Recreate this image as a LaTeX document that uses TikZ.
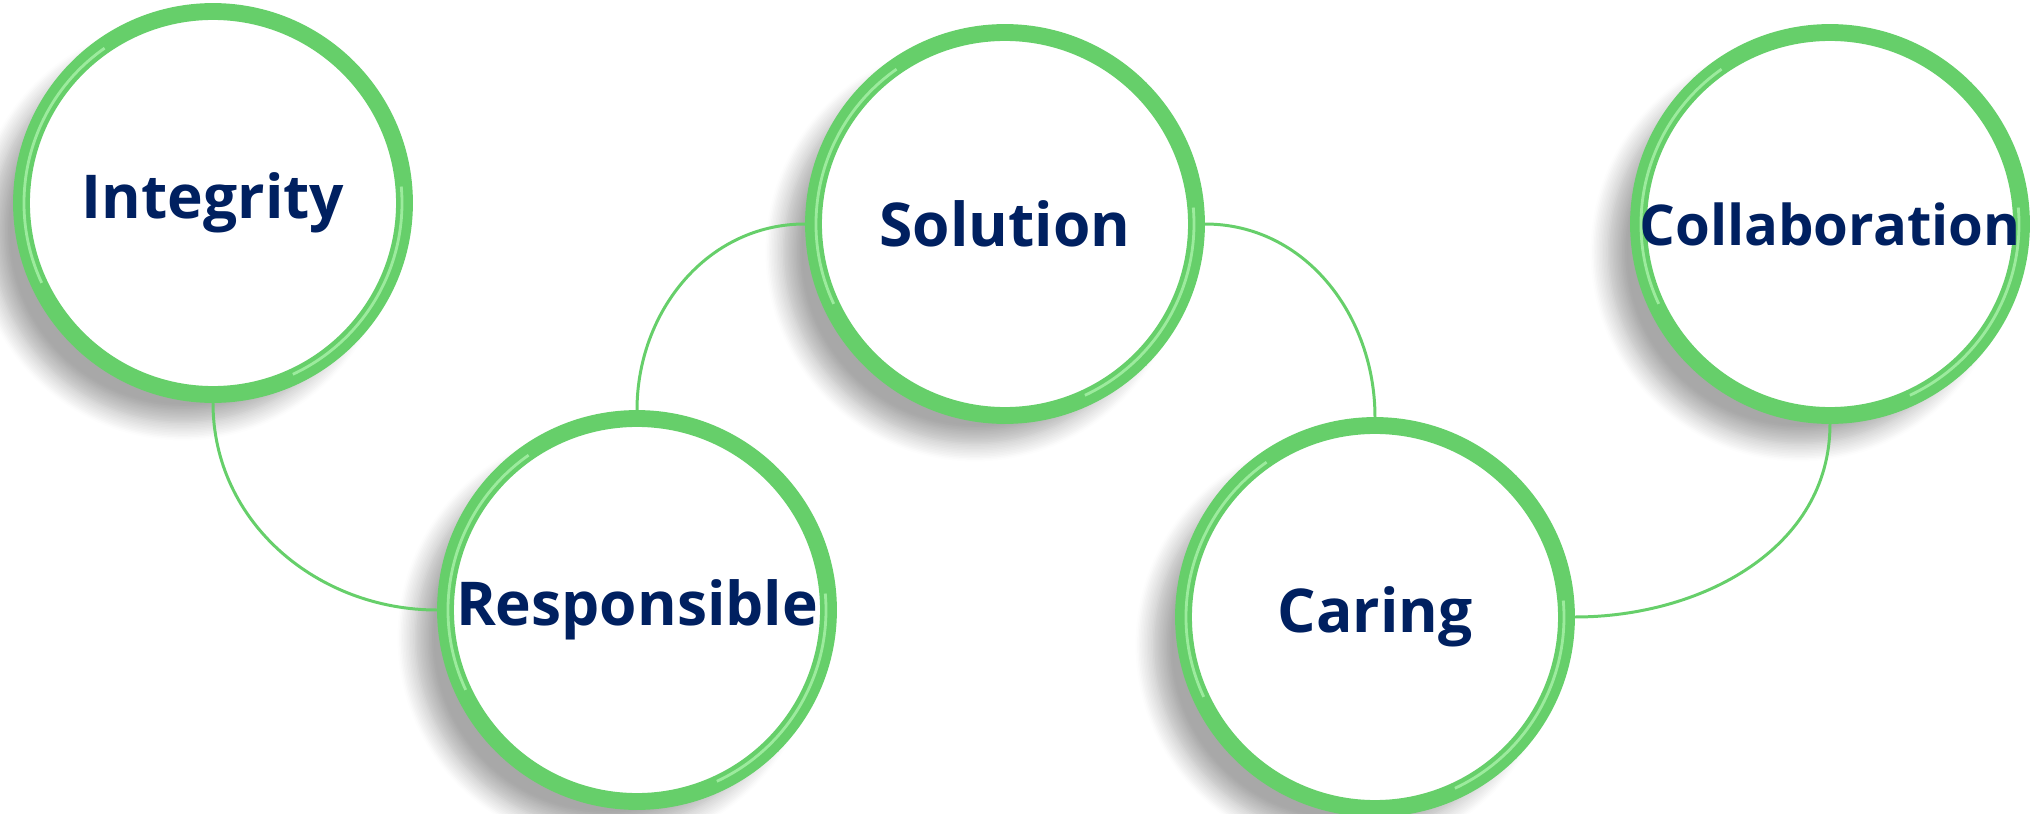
\documentclass[tikz,border=0pt]{standalone}
\usepackage{fontspec}
\setmainfont{Open Sans}
\usetikzlibrary{shadows.blur}
\definecolor{ringgreen}{HTML}{66CF6A}
\definecolor{ringlight}{HTML}{B4F7B4}
\definecolor{navytext}{HTML}{002060}
\tikzset{
	valuecircle/.style={circle, draw=ringgreen, line width=4.8pt, fill=white,
		minimum size=3.83cm, inner sep=0pt,
		font=\fontsize{17.2}{19}\selectfont\bfseries\color{navytext},
		blur shadow={shadow xshift=-0.3cm, shadow yshift=-0.28cm,
			shadow blur radius=0.18cm, shadow blur steps=12, shadow opacity=34}}
}
\tikzset{
	linkline/.style={draw=ringgreen, line width=0.85pt}
}

\begin{document}
\begin{tikzpicture}
      \useasboundingbox (0,-8.14) rectangle (20.31,0);

      % value circles
      \node[valuecircle] (integrity) at (2.13,-2.03) {Integrity};
      \node[valuecircle] (responsible) at (6.37,-6.10) {Responsible};
      \node[valuecircle] (solution) at (10.05,-2.24) {Solution};
      \node[valuecircle] (caring) at (13.75,-6.17) {Caring};
      \node[valuecircle, font=\fontsize{16}{18}\selectfont\bfseries\color{navytext}]
        (collab) at (18.30,-2.24) {Collaboration};

      % glossy highlight on each ring
      \foreach \n in {integrity,responsible,solution,caring,collab} {
        \draw[ringlight, line width=0.8pt, opacity=0.7] (\n.center) ++(125:1.89)
          arc[start angle=125, end angle=205, radius=1.89];
        \draw[ringlight, line width=0.8pt, opacity=0.7] (\n.center) ++(-65:1.89)
          arc[start angle=-65, end angle=5, radius=1.89];
      }

      % connectors
      \draw[linkline] (integrity.south) to[out=-90, in=180] (responsible.west);
      \draw[linkline] (responsible.north) to[out=90, in=180] (solution.west);
      \draw[linkline] (solution.east) to[out=0, in=90] (caring.north);
      \draw[linkline] (collab.south) to[out=-90, in=0] (caring.east);
    \end{tikzpicture}
\end{document}
